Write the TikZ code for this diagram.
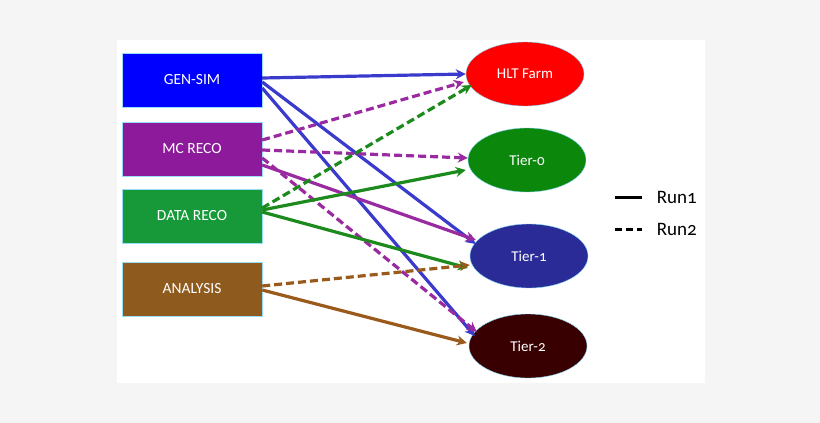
\documentclass[tikz,border=0pt]{standalone}
\usepackage{fontspec}
\setmainfont{Carlito}[Numbers=OldStyle]
\usetikzlibrary{shapes.geometric, arrows.meta}
\definecolor{gensim}{HTML}{0000FF}
\definecolor{mcreco}{HTML}{8C1A9A}
\definecolor{datareco}{HTML}{17993A}
\definecolor{analysis}{HTML}{8E5A1E}
\definecolor{tierzero}{HTML}{0B870B}
\definecolor{tierone}{HTML}{2B2B98}
\definecolor{tiertwo}{HTML}{380000}
\definecolor{lblue}{HTML}{3A3ACC}
\definecolor{lpurple}{HTML}{9A2AA0}
\definecolor{lgreen}{HTML}{1C8A1C}
\definecolor{lbrown}{HTML}{9A5A1C}
\begin{document}
\begin{tikzpicture}[
        x=1pt, y=-1pt,
        step/.style={rectangle, draw=cyan!40, fill=#1, minimum width=140pt, minimum height=54pt, text=white, font=\fontsize{15.5}{18}\selectfont},
        site/.style={ellipse, fill=#1, draw=cyan!50, minimum width=118pt, minimum height=64pt, text=white, font=\fontsize{15}{18}\selectfont},
        run1/.style={-{Stealth[length=10pt,width=10pt]}, line width=3.2pt, draw=#1},
        run2/.style={-{Stealth[length=10pt,width=10pt]}, line width=3.2pt, dash pattern=on 8pt off 4pt, draw=#1}
    ]
        \fill[gray!8] (0,0) rectangle (820,423);
        \fill[white] (117,40) rectangle (705,383);

        \node[step=gensim] (gen) at (192,80) {GEN-SIM};
        \node[step=mcreco] (mc) at (192,149) {MC RECO};
        \node[step=datareco] (data) at (192,216) {DATA RECO};
        \node[step=analysis] (ana) at (192,289) {ANALYSIS};

        \node[site=red] (hlt) at (525,74) {HLT Farm};
        \node[site=tierzero] (t0) at (527,160) {Tier-0};
        \node[site=tierone] (t1) at (529,256) {Tier-1};
        \node[site=tiertwo] (t2) at (528,346) {Tier-2};

        % Run1 / Run2 flows
        \draw[run1=lblue] ([yshift=2pt]gen.east) -- ([yshift=0pt]hlt.west);
        \draw[run1=lblue] ([yshift=-2pt]gen.east) -- ([xshift=6pt,yshift=12pt]t1.west);
        \draw[run1=lblue] ([yshift=-8pt]gen.east) -- ([xshift=6pt,yshift=10pt]t2.west);
        \draw[run2=lpurple] ([yshift=9pt]mc.east) -- ([xshift=-2pt,yshift=-8pt]hlt.west);
        \draw[run2=lpurple] ([yshift=-1pt]mc.east) -- ([yshift=2pt]t0.west);
        \draw[run2=lpurple] ([yshift=-9pt]mc.east) -- ([xshift=8pt,yshift=14pt]t2.west);
        \draw[run1=lpurple] ([yshift=-16pt]mc.east) -- ([xshift=6pt,yshift=16pt]t1.west);
        \draw[run2=lgreen] ([yshift=8pt]data.east) -- ([xshift=6pt,yshift=-11pt]hlt.west);
        \draw[run1=lgreen] ([yshift=6pt]data.east) -- ([xshift=-2pt,yshift=-10pt]t0.west);
        \draw[run1=lgreen] ([yshift=4pt]data.east) -- ([xshift=-2pt,yshift=-12pt]t1.west);
        \draw[run2=lbrown] ([yshift=3pt]ana.east) -- ([xshift=0pt,yshift=-9pt]t1.west);
        \draw[run1=lbrown] ([yshift=-1pt]ana.east) -- ([xshift=-2pt,yshift=3pt]t2.west);

        % legend
        \coordinate (k1a) at (615,197); \coordinate (k1b) at (642,197);
        \coordinate (k2a) at (615,229); \coordinate (k2b) at (642,229);
        \draw[line width=3pt] (k1a) -- (k1b) node[right, xshift=10pt, font=\fontsize{19}{22}\selectfont] (r1) {Run1};
        \draw[line width=3pt, dash pattern=on 7pt off 4pt] (k2a) -- (k2b) node[right, xshift=10pt, font=\fontsize{19}{22}\selectfont] (r2) {Run2};
\end{tikzpicture}
\end{document}
